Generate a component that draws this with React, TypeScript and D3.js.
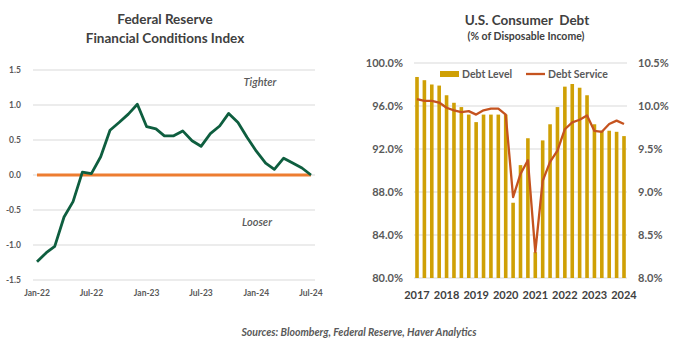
import * as d3 from "d3";

// Federal Reserve FCI, monthly Jan-22 .. Jul-24
const fciMonths = d3.timeMonths(new Date(2022, 0, 1), new Date(2024, 7, 1));
const fciValues = [
  -1.24, -1.11, -1.02, -0.6, -0.38, 0.04, 0.02, 0.26, 0.64, 0.75, 0.87, 1.01,
  0.69, 0.66, 0.56, 0.56, 0.63, 0.49, 0.41, 0.59, 0.7, 0.88, 0.75, 0.54,
  0.34, 0.17, 0.08, 0.24, 0.17, 0.1, 0.0,
];
const fciTicks = [1.5, 1.0, 0.5, 0.0, -0.5, -1.0, -1.5];
const fciXTicks = ["Jan-22", "Jul-22", "Jan-23", "Jul-23", "Jan-24", "Jul-24"];

// Consumer debt, quarterly 2017Q1 .. 2024Q1
const quarters = d3.range(29).map((i) => 2017 + i / 4);
const debtLevel = [
  98.7, 98.4, 98.0, 97.9, 97.0, 96.3, 95.9, 95.2, 94.5, 95.2, 95.2, 95.2,
  95.2, 87.0, 90.5, 93.0, 82.4, 92.8, 94.3, 95.9, 97.8, 98.2, 97.7, 97.0,
  94.3, 93.7, 93.7, 93.6, 93.2,
];
const debtService = [
  10.08, 10.06, 10.06, 10.04, 9.98, 9.95, 9.93, 9.94, 9.9, 9.95, 9.97, 9.97,
  9.9, 8.94, 9.21, 9.37, 8.3, 9.13, 9.35, 9.48, 9.73, 9.81, 9.84, 9.89,
  9.71, 9.7, 9.79, 9.83, 9.79,
];
const leftTicks = [80, 84, 88, 92, 96, 100];
const rightTicks = [8.0, 8.5, 9.0, 9.5, 10.0, 10.5];
const years = d3.range(2017, 2025);

const FONT = "Lato, 'Open Sans', sans-serif";
const GRAY = "#595959";
const GRID = "#d9d9d9";

export default function App() {
  // left chart scales
  const x1 = d3
    .scaleTime()
    .domain([fciMonths[0], fciMonths[fciMonths.length - 1]])
    .range([37, 311]);
  const y1 = d3.scaleLinear().domain([-1.5, 1.5]).range([280, 70]);
  const fciLine = d3
    .line<number>()
    .x((d, i) => x1(fciMonths[i]))
    .y((d) => y1(d));

  // right chart scales
  const x2 = d3.scaleLinear().domain([2017, 2024]).range([417, 624]);
  const yL = d3.scaleLinear().domain([80, 100]).range([278, 63]);
  const yR = d3.scaleLinear().domain([8, 10.5]).range([278, 63]);
  const barW = 3.6;
  const serviceLine = d3
    .line<number>()
    .x((d, i) => x2(quarters[i]))
    .y((d) => yR(d));

  return (
    <svg
      width={699}
      height={351}
      style={{ position: "absolute", left: 0, top: 0, background: "#fff" }}
      fontFamily={FONT}
    >
      {/* ---------- left chart ---------- */}
      <text x={165} y={24} textAnchor="middle" fontSize={13.5} fontWeight={700} fill="#404040">
        Federal Reserve
      </text>
      <text x={165} y={43} textAnchor="middle" fontSize={13.5} fontWeight={700} fill="#404040">
        Financial Conditions Index
      </text>
      <g>
        {fciTicks.map((t) => (
          <g key={t}>
            <line x1={33} x2={315} y1={y1(t)} y2={y1(t)} stroke={GRID} strokeWidth={1} />
            <text
              x={21}
              y={y1(t)}
              dy="0.35em"
              textAnchor="end"
              fontSize={8.5}
              fontWeight={700}
              fill={GRAY}
            >
              {t.toFixed(1)}
            </text>
          </g>
        ))}
        {fciXTicks.map((lab, i) => (
          <text
            key={lab}
            x={x1(fciMonths[i * 6])}
            y={296}
            textAnchor="middle"
            fontSize={8.5}
            fontWeight={700}
            fill={GRAY}
          >
            {lab}
          </text>
        ))}
        <line
          x1={x1(fciMonths[0])}
          x2={x1(fciMonths[fciMonths.length - 1])}
          y1={y1(0)}
          y2={y1(0)}
          stroke="#ed7d31"
          strokeWidth={3}
        />
        <path d={fciLine(fciValues) || ""} fill="none" stroke="#0e5e3f" strokeWidth={2.8} strokeLinejoin="round" />
        <text x={260} y={86} textAnchor="middle" fontSize={11} fontStyle="italic" fontWeight={600} fill={GRAY}>
          Tighter
        </text>
        <text x={257} y={226} textAnchor="middle" fontSize={11} fontStyle="italic" fontWeight={600} fill={GRAY}>
          Looser
        </text>
      </g>

      {/* ---------- right chart ---------- */}
      <text
        x={527}
        y={25}
        textAnchor="middle"
        fontSize={13.5}
        fontWeight={700}
        fill="#404040"
        style={{ whiteSpace: "pre" }}
      >
        {"U.S. Consumer  Debt"}
      </text>
      <text x={526} y={40} textAnchor="middle" fontSize={10.5} fontWeight={700} fill="#404040">
        (% of Disposable Income)
      </text>
      <g>
        {leftTicks.map((t, i) => (
          <g key={t}>
            <line x1={414} x2={627} y1={yL(t)} y2={yL(t)} stroke={GRID} strokeWidth={1} />
            <text x={403} y={yL(t)} dy="0.35em" textAnchor="end" fontSize={11} fontWeight={700} fill={GRAY}>
              {t.toFixed(1)}%
            </text>
            <text x={638} y={yR(rightTicks[i])} dy="0.35em" textAnchor="start" fontSize={11} fontWeight={700} fill={GRAY}>
              {rightTicks[i].toFixed(1)}%
            </text>
          </g>
        ))}
        {quarters.map((q, i) => (
          <rect
            key={q}
            x={x2(q) - barW / 2}
            y={yL(debtLevel[i])}
            width={barW}
            height={yL(80) - yL(debtLevel[i])}
            fill="#cfa005"
          />
        ))}
        <path d={serviceLine(debtService) || ""} fill="none" stroke="#c5531f" strokeWidth={2.3} strokeLinejoin="round" />
        {years.map((yr) => (
          <text key={yr} x={x2(yr)} y={299} textAnchor="middle" fontSize={11} fontWeight={700} fill="#404040">
            {yr}
          </text>
        ))}
        {/* legend */}
        <rect x={427} y={64} width={192} height={20} fill="#fff" />
        <rect x={440} y={71} width={19} height={6} fill="#cfa005" />
        <text x={462} y={74} dy="0.35em" fontSize={10.5} fontWeight={700} fill={GRAY}>
          Debt Level
        </text>
        <line x1={526} x2={545} y1={74} y2={74} stroke="#c5531f" strokeWidth={2.3} />
        <text x={548} y={74} dy="0.35em" fontSize={10.5} fontWeight={700} fill={GRAY}>
          Debt Service
        </text>
      </g>

      <text x={359} y={336} textAnchor="middle" fontSize={10.5} fontStyle="italic" fontWeight={700} fill={GRAY}>
        Sources: Bloomberg, Federal Reserve, Haver Analytics
      </text>
    </svg>
  );
}
